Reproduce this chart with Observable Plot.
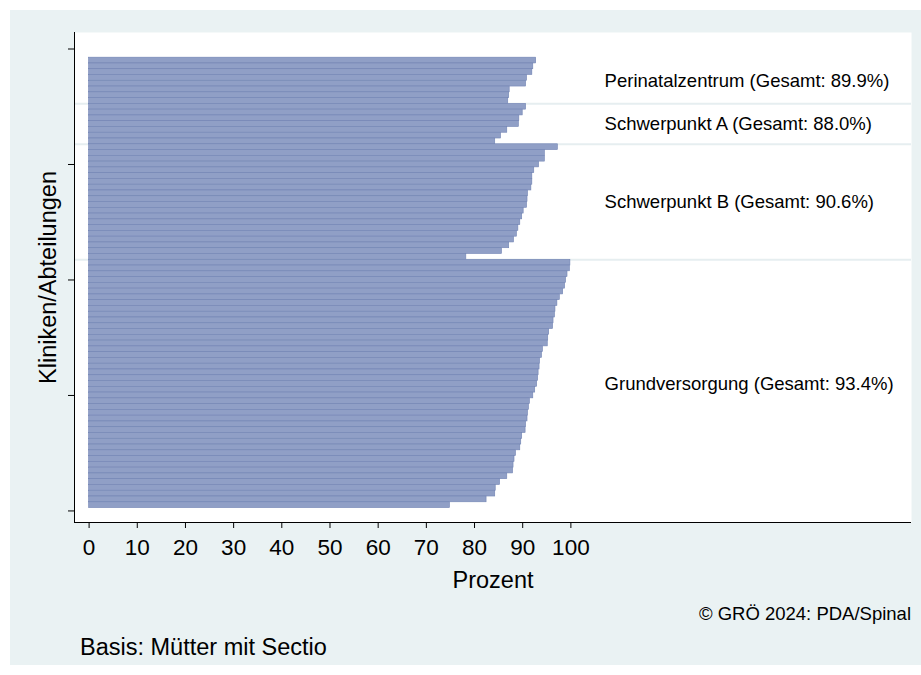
<!DOCTYPE html>
<html>
<head>
<meta charset="utf-8">
<script src="https://cdn.jsdelivr.net/npm/d3@7"></script>
<script src="https://cdn.jsdelivr.net/npm/@observablehq/plot@0.6"></script>
<style>
  body { margin: 0; background: #ffffff; font-family: "Liberation Sans", Arial, sans-serif; }
  #wrap { position: absolute; left: 10px; top: 10px; width: 911px; height: 655px; background: #EAF2F3; overflow: hidden; }
  #chart { position: absolute; left: 0; top: 0; }
  .cap { position: absolute; color: #000; white-space: nowrap; }
  #src { right: 10px; top: 593px; font-size: 18.5px; line-height: 22px; }
  #basis { left: 70px; top: 624px; font-size: 23.5px; line-height: 26px; }
</style>
</head>
<body>
<div id="wrap">
  <div id="chart"></div>
  <div class="cap" id="src">© GRÖ 2024: PDA/Spinal</div>
  <div class="cap" id="basis">Basis: Mütter mit Sectio</div>
</div>
<script>
// Groups, top to bottom
const groupNames = ["Perinatalzentrum", "Schwerpunkt A", "Schwerpunkt B", "Grundversorgung"];
const groupTotals = [89.9, 88.0, 90.6, 93.4];

// Values per clinic (Prozent), sorted descending within each group
const perinatal = [92.8, 92.2, 92.0, 90.9, 90.7, 87.3, 87.2, 87.0];
const schwerpunktA = [90.7, 90.0, 89.3, 89.2, 86.8, 85.5, 84.3];
const schwerpunktB = [97.3, 94.6, 94.6, 93.4, 92.4, 92.0, 92.0, 91.8, 91.1, 91.0,
                      90.9, 90.2, 89.9, 89.5, 89.1, 88.8, 88.2, 87.2, 85.7, 78.3];
const grund = [99.9, 99.8, 99.3, 99.0, 98.8, 98.4, 97.7, 97.2, 96.8, 96.7,
               96.4, 96.3, 95.5, 95.3, 95.2, 94.2, 94.0, 93.6, 93.5, 93.3,
               93.2, 93.0, 92.6, 92.2, 91.5, 91.3, 91.1, 91.0, 90.7, 90.6,
               89.9, 89.7, 89.5, 88.6, 88.3, 88.1, 88.0, 86.8, 85.3, 84.4,
               84.3, 82.5, 74.9];

const xTicks = [0, 10, 20, 30, 40, 50, 60, 70, 80, 90, 100];
const yTicks = [0, 20, 40, 60, 80];

// Build table: position 1 = bottom bar
const groupValues = [perinatal, schwerpunktA, schwerpunktB, grund];
const total = groupValues.reduce((s, g) => s + g.length, 0);
let pos = total;
const bars = [];
const labels = [];
const separators = [];
groupValues.forEach((vals, gi) => {
  const top = pos;
  vals.forEach(v => { bars.push({pos, value: v, group: groupNames[gi]}); pos--; });
  const bottom = pos + 1;
  labels.push({y: (top + bottom) / 2, text: `${groupNames[gi]} (Gesamt: ${groupTotals[gi].toFixed(1)}%)`});
  if (gi < groupValues.length - 1) separators.push(pos + 0.5);
});

const xDomain = [-3.03, 170.7];
const yDomain = [-2.0, 82.86];
const font = "'Liberation Sans', Arial, sans-serif";

const chart = Plot.plot({
  width: 911,
  height: 590,
  marginLeft: 64,
  marginRight: 10,
  marginTop: 22,
  marginBottom: 78,
  style: { background: "transparent", fontFamily: font, fontSize: "18.5px", color: "#000" },
  x: { domain: xDomain, ticks: xTicks, tickSize: 6, tickPadding: 12, label: null },
  y: { domain: yDomain, ticks: yTicks, tickSize: 6, tickFormat: () => "", label: null },
  marks: [
    Plot.frame({ fill: "white", stroke: "none" }),
    Plot.ruleY(separators, { stroke: "#E6EEF0", strokeWidth: 2 }),
    Plot.rect(bars, {
      x1: 0, x2: "value",
      y1: d => d.pos - 0.5, y2: d => d.pos + 0.5,
      fill: "#909FC6", stroke: "#7183B3", strokeWidth: 0.6
    }),
    Plot.ruleX([xDomain[0]], { stroke: "#000", strokeWidth: 1 }),
    Plot.ruleY([yDomain[0]], { stroke: "#000", strokeWidth: 1 }),
    Plot.text(labels, { x: 107, y: "y", text: "text", textAnchor: "start", fontSize: 18.5, fill: "#000" }),
    Plot.axisX({ ticks: xTicks, tickSize: 6, tickPadding: 11, fontSize: 22.5, label: null }),
    Plot.axisY({ ticks: yTicks, tickSize: 6, tickFormat: () => "", label: null }),
    Plot.text(["Prozent"], { frameAnchor: "bottom", dy: 65, fontSize: 23.5, fill: "#000" }),
    Plot.text(["Kliniken/Abteilungen"], { frameAnchor: "left", dx: -26, rotate: -90, textAnchor: "middle", lineAnchor: "middle", fontSize: 23.5, fill: "#000" })
  ]
});
document.getElementById("chart").appendChild(chart);
</script>
</body>
</html>
